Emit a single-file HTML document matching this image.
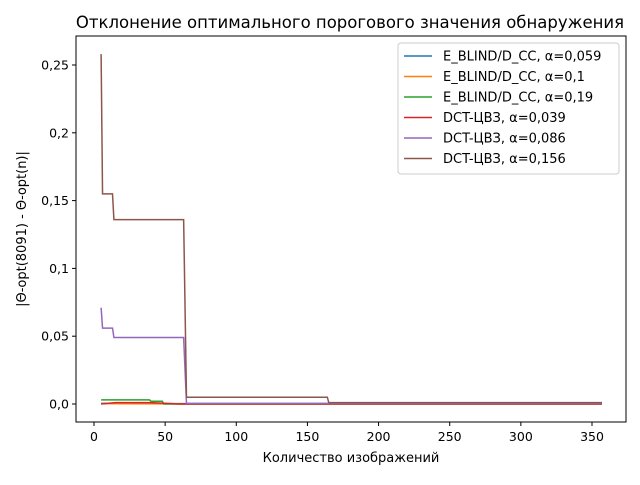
<!DOCTYPE html>
<html><head><meta charset="utf-8"><style>
body{margin:0;background:#fff;}
svg text{font-family:"DejaVu Sans","Liberation Sans",sans-serif;}
</style></head><body>
<svg id="chart" width="640" height="480" xmlns="http://www.w3.org/2000/svg">
<rect width="640" height="480" fill="#fff"/>
<text x="350" y="28" font-size="16.5" text-anchor="middle">Отклонение оптимального порогового значения обнаружения</text>
<g id="plot"></g>
<rect x="76" y="36" width="550" height="386" fill="none" stroke="#000" stroke-width="1"/>
<text x="351" y="462" font-size="13" text-anchor="middle">Количество изображений</text>
<text transform="translate(26,229) rotate(-90)" font-size="13" text-anchor="middle">|Θ-opt(8091) - Θ-opt(n)|</text>
<g id="legend"></g>
</svg>
<script>
const xTicks=[0,50,100,150,200,250,300,350];
const yTicks=[0,0.05,0.1,0.15,0.2,0.25];
const yTickLabels=["0,0","0,05","0,1","0,15","0,2","0,25"];
const seriesNames=["E_BLIND/D_CC, α=0,059","E_BLIND/D_CC, α=0,1","E_BLIND/D_CC, α=0,19","DCT-ЦВЗ, α=0,039","DCT-ЦВЗ, α=0,086","DCT-ЦВЗ, α=0,156"];
const colors=["#1f77b4","#ff7f0e","#2ca02c","#d62728","#9467bd","#8c564b"];
const s0x=[5,20,40,357], s0y=[0.0005,0.0005,0.0003,0.0002];
const s1x=[5,20,50,357], s1y=[0.0003,0.0002,0.0001,0.0001];
const s2x=[5,39,40,48,49,357], s2y=[0.003,0.003,0.002,0.002,0,0];
const s3x=[5,15,40,60,357], s3y=[0,0.001,0.001,0,0];
const s4x=[5,6,13,14,63,65,357], s4y=[0.071,0.056,0.056,0.049,0.049,0.0005,0.0005];
const s5x=[5,6,13,14,63,65,164,165,357], s5y=[0.258,0.155,0.155,0.136,0.136,0.005,0.005,0.001,0.001];
const allX=[s0x,s1x,s2x,s3x,s4x,s5x], allY=[s0y,s1y,s2y,s3y,s4y,s5y];
const X=v=>94+v*(592-94)/350;
const Y=v=>404-v*(404-65)/0.25;
const NS="http://www.w3.org/2000/svg";
const plot=document.getElementById('plot');
xTicks.forEach(t=>{
 const l=document.createElementNS(NS,'line');
 
 
 l.setAttribute('x1',X(t));l.setAttribute('x2',X(t));l.setAttribute('y1',422);l.setAttribute('y2',426);l.setAttribute('stroke','#000');
 plot.appendChild(l);
 const tx=document.createElementNS(NS,'text');
 
 
 tx.setAttribute('x',X(t));tx.setAttribute('y',441);tx.setAttribute('font-size','12.5');tx.setAttribute('text-anchor','middle');
 tx.textContent=t;plot.appendChild(tx);
});
yTicks.forEach((t,i)=>{
 const l=document.createElementNS(NS,'line');
 
 
 l.setAttribute('x1',72);l.setAttribute('x2',76);l.setAttribute('y1',Y(t));l.setAttribute('y2',Y(t));l.setAttribute('stroke','#000');
 plot.appendChild(l);
 const tx=document.createElementNS(NS,'text');
 
 
 tx.setAttribute('x',69);tx.setAttribute('y',Y(t)+4.5);tx.setAttribute('font-size','12.5');tx.setAttribute('text-anchor','end');
 tx.textContent=yTickLabels[i];plot.appendChild(tx);
});
allX.forEach((xs,k)=>{
 const p=document.createElementNS(NS,'polyline');
 
 
 p.setAttribute('points',xs.map((x,i)=>X(x)+','+Y(allY[k][i])).join(' '));
 p.setAttribute('fill','none');p.setAttribute('stroke',colors[k]);p.setAttribute('stroke-width','1.5');
 plot.appendChild(p);
});
const lg=document.getElementById('legend');
const box=document.createElementNS(NS,'rect');


box.setAttribute('x',398);box.setAttribute('y',43);box.setAttribute('width',221);box.setAttribute('height',131);box.setAttribute('rx',3);
box.setAttribute('fill','#fff');box.setAttribute('stroke','#ccc');
lg.appendChild(box);
seriesNames.forEach((n,i)=>{
 const y=56+i*20.5;
 const l=document.createElementNS(NS,'line');
 
 
 l.setAttribute('x1',404);l.setAttribute('x2',432);l.setAttribute('y1',y);l.setAttribute('y2',y);l.setAttribute('stroke',colors[i]);l.setAttribute('stroke-width','1.5');
 lg.appendChild(l);
 const t=document.createElementNS(NS,'text');
 
 
 t.setAttribute('x',443);t.setAttribute('y',y+4.5);t.setAttribute('font-size','13');
 t.textContent=n;lg.appendChild(t);
});
</script>
</body></html>
